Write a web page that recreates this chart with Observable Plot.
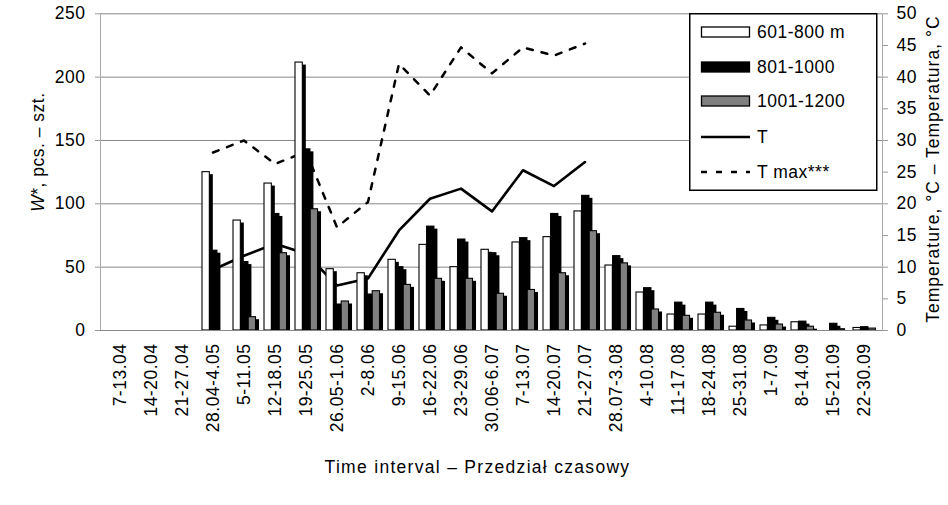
<!DOCTYPE html>
<html><head><meta charset="utf-8">
<script src="https://cdn.jsdelivr.net/npm/d3@7"></script>
<script src="https://cdn.jsdelivr.net/npm/@observablehq/plot@0.6"></script>
<style>
body{margin:0;background:#fff;}
#wrap{position:relative;width:948px;height:505px;font-family:"Liberation Sans",Arial,sans-serif;}
#legend{position:absolute;left:689px;top:13px;}
</style></head>
<body><div id="wrap"></div>
<script>
const categories = ["7-13.04","14-20.04","21-27.04","28.04-4.05","5-11.05","12-18.05","19-25.05","26.05-1.06","2-8.06","9-15.06","16-22.06","23-29.06","30.06-6.07","7-13.07","14-20.07","21-27.07","28.07-3.08","4-10.08","11-17.08","18-24.08","25-31.08","1-7.09","8-14.09","15-21.09","22-30.09"];
const w601_800   = [null,null,null,125,86.8,116,211.5,48.4,45.2,55.8,67.6,50,63.7,69.5,73.7,94,51.3,30,12.6,12.6,3,4,6.5,null,2];
const w801_1000  = [null,null,null,63,54,92,143,20.5,28.4,50,82,71.8,61,72.9,92,106.3,58.7,33.4,22,22,17,10,7,5.3,2.6];
const w1001_1200 = [null,null,null,null,10.5,61,95.7,22.9,31,36,40.8,40.8,29,32,45.2,78.4,53,16.6,11.6,14,7.9,4.7,3,1,1.5];
const tMean = [null,null,null,9.6,11.8,13.7,12.1,7.1,8.2,15.8,20.8,22.4,18.8,25.3,22.8,26.6,null,null,null,null,null,null,null,null,null];
const tMax  = [null,null,null,28.1,30,26.3,28.2,16.3,20.3,42.1,37.1,44.7,40.6,44.7,43.4,45.3,null,null,null,null,null,null,null,null,null];
const leftTicks = [0,50,100,150,200,250];
const rightTicks = [0,5,10,15,20,25,30,35,40,45,50];
const seriesNames = ["601-800 m","801-1000","1001-1200","T","T max***"];

const rows = categories.map((c,i)=>({c, s0:w601_800[i], s1:w801_1000[i], s2:w1001_1200[i], t:tMean[i], tm:tMax[i]}));

const W = 948, H = 505, ML = 100, MR = 66, MT = 13.3, MB = 175;
const bw = (W - ML - MR) / categories.length;
const fills = ["#ffffff","#000000","#808080"];
const keys = ["s0","s1","s2"];
const start = 5, step = 7.6, bwid = 7.6;

const barMarks = [];
keys.forEach((k,i)=>{
  const l = start + step*i;
  const r = bw - (l + bwid);
  barMarks.push(Plot.barY(rows, {x:"c", y1:0, y2:k, filter:d=>d[k]!=null && d[k]>2, insetLeft:l, insetRight:r, insetTop:2.5, dx:3.5, fill:"#000"}));
  barMarks.push(Plot.barY(rows, {x:"c", y1:0, y2:k, filter:d=>d[k]!=null, insetLeft:l, insetRight:r, fill:fills[i], stroke:"#000", strokeWidth:1.1}));
});

const chart = Plot.plot({
  width: W, height: H, marginLeft: ML, marginRight: MR, marginTop: MT, marginBottom: MB,
  style: {fontFamily: '"Liberation Sans", Arial, sans-serif', fontSize: "17.5px", letterSpacing: "0.5px", color: "#000", background: "#fff"},
  x: {type: "band", domain: categories, padding: 0},
  y: {domain: [0, 250]},
  marks: [
    Plot.ruleY([50,100,150,200,250], {stroke: "#888", strokeWidth: 1}),
    Plot.frame({anchor: "left", stroke: "#aaa"}),
    Plot.frame({anchor: "right", stroke: "#aaa"}),
    Plot.line(rows, {x: "c", y: d => d.tm == null ? null : d.tm * 5, stroke: "#000", strokeWidth: 2.5, strokeDasharray: "6 9"}),
    Plot.line(rows, {x: "c", y: d => d.t == null ? null : d.t * 5, stroke: "#000", strokeWidth: 2.6}),
    ...barMarks,
    Plot.ruleY([0], {stroke: "#888", strokeWidth: 1.2}),
    Plot.axisY(leftTicks, {anchor: "left", tickSize: 5, tickPadding: 10, stroke: "#999", fill: "#000", label: null}),
    Plot.axisY(rightTicks.map(v => v * 5), {anchor: "right", tickSize: 5, tickPadding: 9, tickFormat: d => d / 5, stroke: "#999", fill: "#000", label: null}),
    Plot.axisX({tickSize: 0, tickRotate: -90, tickPadding: 13, fill: "#000", label: null}),
    Plot.text(["W*, pcs. – szt."], {frameAnchor: "left", textAnchor: "middle", lineAnchor: "middle", rotate: -90, dx: -62, dy: -20, fill: "#000"}),
    Plot.text(["Temperature, °C – Temperatura, °C"], {frameAnchor: "right", textAnchor: "middle", lineAnchor: "middle", rotate: -90, dx: 51, dy: -3, fill: "#000"}),
    Plot.text(["Time interval – Przedział czasowy"], {frameAnchor: "bottom", textAnchor: "middle", lineAnchor: "middle", dy: 137, dx: -14, fill: "#000"})
  ]
});

d3.select(chart).selectAll("text").each(function(){
  const t = this.textContent;
  if (t === "W*, pcs. – szt.") {
    this.innerHTML = '<tspan font-style="italic">W</tspan>*, pcs. – szt.';
  } else if (t === "Temperature, °C – Temperatura, °C") {
    this.style.letterSpacing = "1px";
  } else if (t === "Time interval – Przedział czasowy") {
    this.style.letterSpacing = "1.3px";
  }
});

const wrap = document.getElementById("wrap");
wrap.appendChild(chart);

// Legend
const lg = d3.select(wrap).append("svg").attr("id","legend").attr("width",190).attr("height",179)
  .style("font-family",'"Liberation Sans", Arial, sans-serif').style("font-size","17.5px").style("letter-spacing","0.5px");
lg.append("rect").attr("x",0.75).attr("y",0.75).attr("width",187).attr("height",176.5).attr("fill","#fff").attr("stroke","#000").attr("stroke-width",1.5);
const ys = [19, 54, 88, 124, 159];
seriesNames.forEach((name,i)=>{
  const y = ys[i];
  if (i < 3) {
    lg.append("rect").attr("x",12.5).attr("y",y-5).attr("width",48).attr("height",10).attr("fill",fills[i]).attr("stroke","#000").attr("stroke-width",1.3);
  } else {
    lg.append("line").attr("x1",12).attr("x2",61).attr("y1",y).attr("y2",y).attr("stroke","#000").attr("stroke-width",2.5)
      .attr("stroke-dasharray", i===4 ? "6 9" : null);
  }
  lg.append("text").attr("x",68).attr("y",y).attr("dy","0.36em").text(name);
});
</script>
</body></html>
